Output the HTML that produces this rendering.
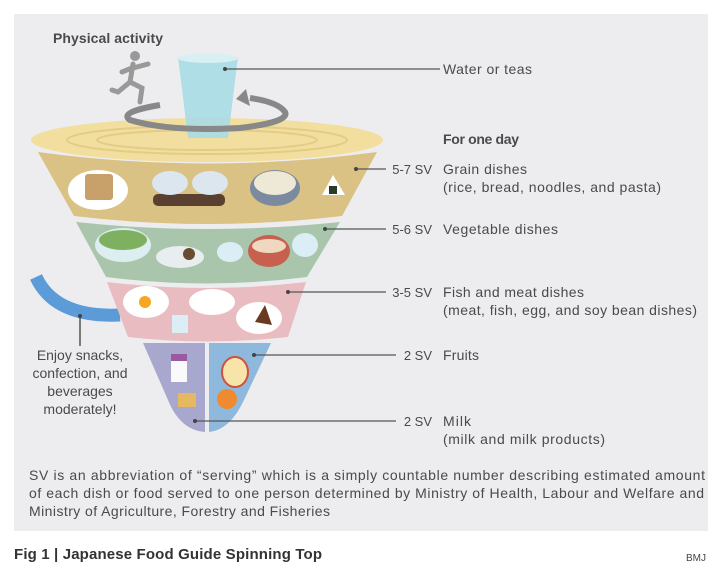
<!DOCTYPE html>
<html><head><meta charset="utf-8"><style>
html,body{margin:0;padding:0;background:#fff;}
body{width:720px;height:571px;position:relative;overflow:hidden;font-family:"Liberation Sans",sans-serif;}
</style></head><body>
<svg width="720" height="571" viewBox="0 0 720 571" xmlns="http://www.w3.org/2000/svg" font-family="Liberation Sans, sans-serif">
<rect x="14" y="14" width="694" height="517" fill="#ededef"/>
<path d="M36 277 Q55 318 120 315" stroke="#5b9bd8" stroke-width="13" fill="none"/>
<line x1="80" y1="316" x2="80" y2="346" stroke="#555" stroke-width="1.5"/>
<ellipse cx="207" cy="140" rx="176" ry="22" fill="#f2df9f"/>
<ellipse cx="207" cy="140" rx="140" ry="14" fill="none" stroke="#e3cc85" stroke-width="2"/>
<ellipse cx="207" cy="140" rx="110" ry="10" fill="none" stroke="#e3cc85" stroke-width="2"/>
<path d="M38 152 Q207 175 377 152 L342 216 Q207 232 74 216 Z" fill="#d9c283"/>
<path d="M76 222 Q207 236 340 222 L307 277 Q207 290 106 277 Z" fill="#a9c6ad"/>
<path d="M107 282 Q207 294 306 282 L288 337 Q207 346 128 337 Z" fill="#e9bcc2"/>
<path d="M143 343 L205 343 L205 432 Q180 430 168 400 Z" fill="#a8a8cf"/>
<path d="M209 343 L271 343 L244 400 Q230 430 209 432 Z" fill="#8fb9dc"/>
<ellipse cx="98" cy="190" rx="30" ry="20" fill="#fff"/><rect x="85" y="174" width="28" height="26" fill="#c8a06a" rx="3"/>
<rect x="153" y="194" width="72" height="12" rx="5" fill="#5a4030"/>
<ellipse cx="170" cy="183" rx="18" ry="12" fill="#dbe6ef"/><ellipse cx="210" cy="183" rx="18" ry="12" fill="#dbe6ef"/>
<ellipse cx="275" cy="188" rx="25" ry="18" fill="#7c8aa0"/><ellipse cx="275" cy="183" rx="21" ry="12" fill="#eee8d6"/>
<path d="M322 195 L333 175 L345 195 Z" fill="#fff"/><rect x="329" y="186" width="8" height="8" fill="#2a3a2a"/>
<ellipse cx="123" cy="245" rx="28" ry="17" fill="#dceef0"/><ellipse cx="123" cy="240" rx="24" ry="10" fill="#7eb060"/>
<ellipse cx="180" cy="257" rx="24" ry="11" fill="#e8eef0"/><circle cx="189" cy="254" r="6" fill="#6a4a30"/>
<ellipse cx="230" cy="252" rx="13" ry="10" fill="#dceef5"/>
<ellipse cx="269" cy="251" rx="21" ry="16" fill="#c86050"/><ellipse cx="269" cy="246" rx="17" ry="7" fill="#f0d8c0"/>
<ellipse cx="305" cy="245" rx="13" ry="12" fill="#dceef5"/>
<ellipse cx="146" cy="302" rx="23" ry="16" fill="#fff"/><circle cx="145" cy="302" r="6" fill="#f5a623"/>
<ellipse cx="212" cy="302" rx="23" ry="13" fill="#fff"/>
<ellipse cx="259" cy="318" rx="23" ry="16" fill="#fff"/><path d="M255 322 L265 305 L272 325 Z" fill="#6a3a20"/>
<rect x="172" y="315" width="16" height="18" fill="#dceef5"/>
<rect x="171" y="354" width="16" height="28" fill="#fafafa"/><rect x="171" y="354" width="16" height="7" fill="#9a5aa0"/>
<rect x="178" y="393" width="18" height="14" fill="#e6b860"/>
<ellipse cx="235" cy="372" rx="13" ry="15" fill="#f7e4a8" stroke="#d05040" stroke-width="2"/>
<circle cx="227" cy="399" r="10" fill="#f08a30"/>
<path d="M178 57 L238 57 L228 138 L188 138 Z" fill="#a8dbe6" opacity="0.9"/>
<ellipse cx="208" cy="58" rx="30" ry="5" fill="#d8f0f4"/>
<path d="M160 105 Q118 112 130 120 Q170 132 240 128 Q290 122 285 112 Q278 102 250 98" stroke="#888" stroke-width="6" fill="none"/>
<path d="M246 89 L236 99 L250 106 Z" fill="#888"/>
<g stroke="#999" stroke-width="5" stroke-linecap="round" fill="none">
<circle cx="135" cy="56" r="5" fill="#999" stroke="none"/>
<path d="M133 64 L130 82 L118 92 L112 90"/><path d="M130 82 L142 88 L140 102"/><path d="M132 68 L122 72 M133 68 L148 64"/>
</g>
<g stroke="#555" stroke-width="1.3">
<line x1="225" y1="69" x2="440" y2="69"/>
<line x1="356" y1="169" x2="386" y2="169"/>
<line x1="325" y1="229" x2="386" y2="229"/>
<line x1="288" y1="292" x2="386" y2="292"/>
<line x1="254" y1="355" x2="396" y2="355"/>
<line x1="195" y1="421" x2="396" y2="421"/>
</g>
<g fill="#444"><circle cx="225" cy="69" r="2"/><circle cx="356" cy="169" r="2"/><circle cx="325" cy="229" r="2"/><circle cx="288" cy="292" r="2"/><circle cx="254" cy="355" r="2"/><circle cx="195" cy="421" r="2"/><circle cx="80" cy="316" r="2"/></g>
<g fill="#4a4a4a" font-size="14">
<text x="53" y="43" font-weight="bold" textLength="110">Physical activity</text>
<text x="443" y="74" textLength="89">Water or teas</text>
<text x="443" y="144" font-weight="bold" textLength="76">For one day</text>
<g font-size="13" text-anchor="end">
<text x="432" y="174">5-7 SV</text><text x="432" y="234">5-6 SV</text><text x="432" y="297">3-5 SV</text><text x="432" y="360">2 SV</text><text x="432" y="426">2 SV</text>
</g>
<text x="443" y="174" textLength="84">Grain dishes</text>
<text x="443" y="192" textLength="218">(rice, bread, noodles, and pasta)</text>
<text x="443" y="234" textLength="115">Vegetable dishes</text>
<text x="443" y="297" textLength="141">Fish and meat dishes</text>
<text x="443" y="315" textLength="254">(meat, fish, egg, and soy bean dishes)</text>
<text x="443" y="360" textLength="36">Fruits</text>
<text x="443" y="426" textLength="28">Milk</text>
<text x="443" y="444" textLength="162">(milk and milk products)</text>
<g text-anchor="middle"><text x="80" y="360">Enjoy snacks,</text><text x="80" y="378">confection, and</text><text x="80" y="396">beverages</text><text x="80" y="414">moderately!</text></g>
<text x="29" y="480" textLength="676">SV is an abbreviation of “serving” which is a simply countable number describing estimated amount</text>
<text x="29" y="498" textLength="675">of each dish or food served to one person determined by Ministry of Health, Labour and Welfare and</text>
<text x="29" y="516" textLength="301">Ministry of Agriculture, Forestry and Fisheries</text>
</g>
<text x="14" y="559" font-size="15" font-weight="bold" fill="#333" textLength="308">Fig 1 | Japanese Food Guide Spinning Top</text>
<text x="686" y="561" font-size="10" fill="#444">BMJ</text>
</svg>
</body></html>
